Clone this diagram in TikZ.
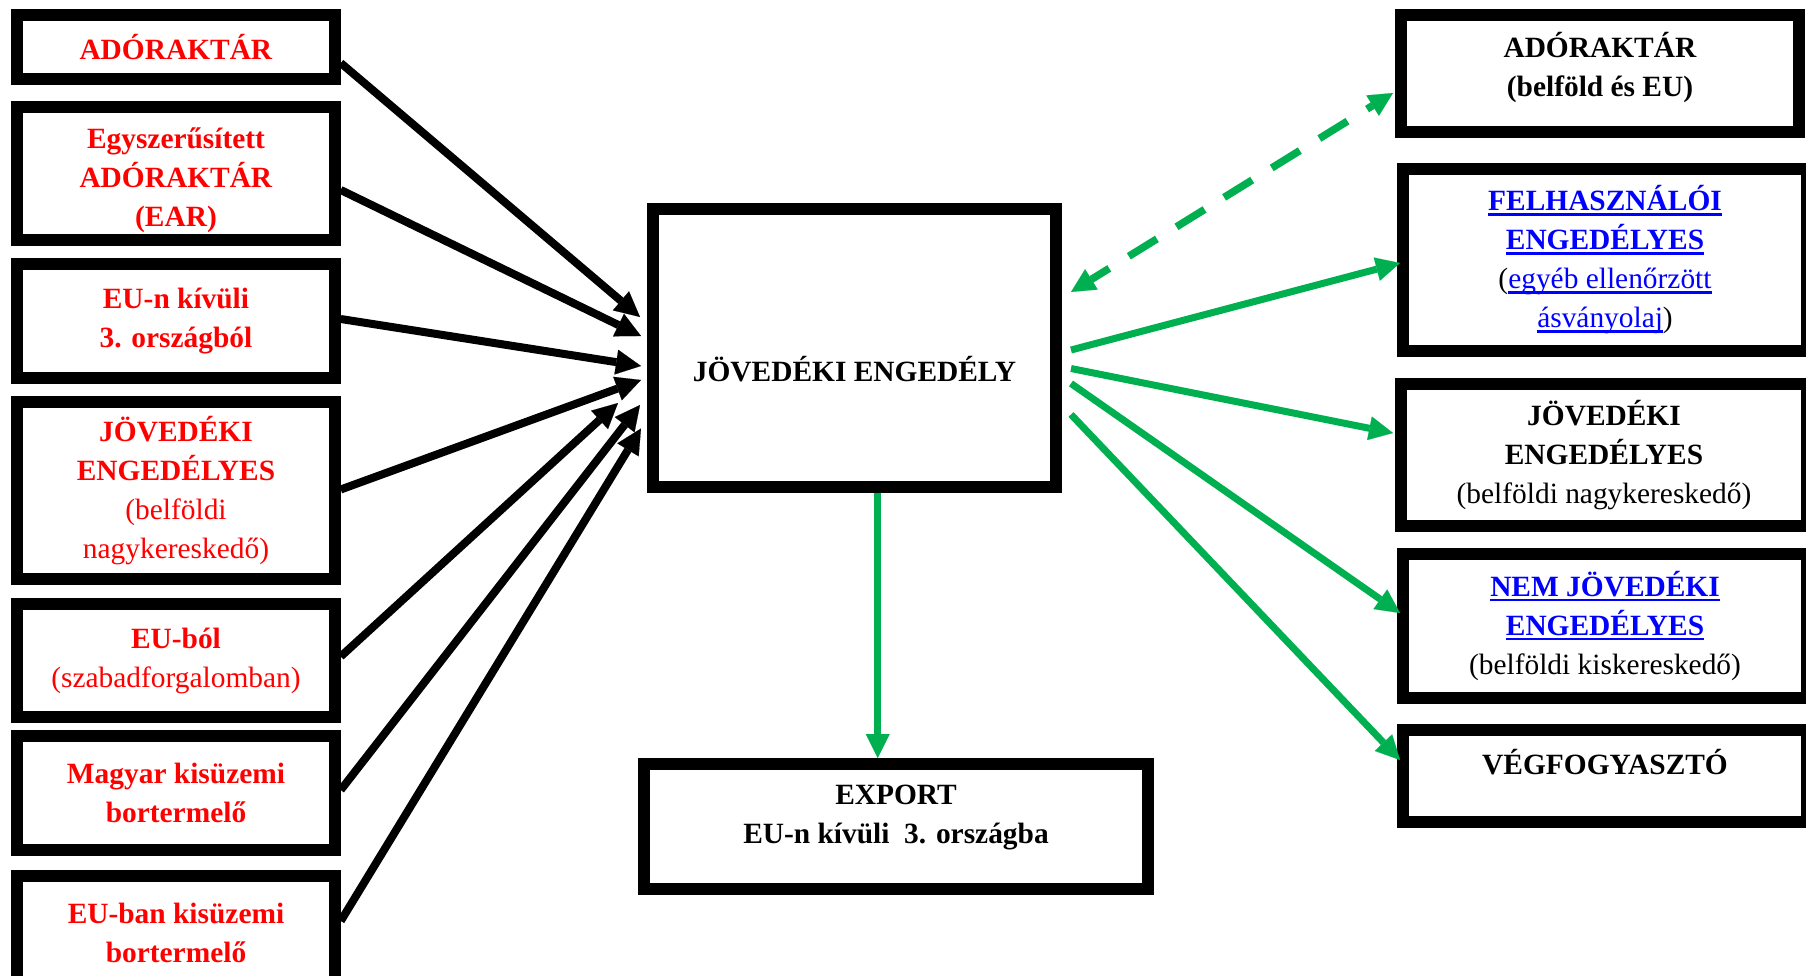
\documentclass[tikz,border=0pt]{standalone}
\usepackage{fontspec}
\setmainfont{Liberation Serif}
\usetikzlibrary{arrows.meta,calc}
\definecolor{gr}{HTML}{00B050}
\definecolor{rd}{HTML}{FF0000}
\definecolor{bl}{HTML}{0000FF}
\newcommand\myul[1]{\setbox0\hbox{#1}\rlap{\rule[-5pt]{\wd0}{2.6pt}}\box0}
\newcommand\fs{\fontsize{29.4}{39}\selectfont}
\begin{document}
\begin{tikzpicture}[x=1pt,y=-1pt,
  box/.style={draw, line width=12pt, inner sep=0pt, align=center, font=\fs},
  lbox/.style={box, minimum width=317.5pt, text=rd},
  txt/.style={inner sep=0pt, align=center, font=\fs},
  barrow/.style={draw=black, line width=8pt, -{Triangle[length=25pt,width=25pt,line width=0.1pt]}},
  garrow/.style={draw=gr, line width=7pt, -{Triangle[length=24pt,width=24pt,line width=0.1pt]}},
  gdash/.style={draw=gr, line width=7.5pt, dash pattern=on 33pt off 23pt, dash phase=12pt,
     {Triangle[length=24pt,width=24pt,line width=0.1pt]}-{Triangle[length=24pt,width=24pt,line width=0.1pt]}}]
\useasboundingbox (0,0) rectangle (1806,976);
\clip (0,0) rectangle (1806,976);
\fill[white] (0,0) rectangle (1806,976);

% left boxes
\node[lbox, minimum height=64pt] (l1) at (176,47) {\textbf{ADÓRAKTÁR}};
\node[lbox, minimum height=133pt] (l2) at (176,174) {};
\node[txt, text=rd] (l2text) at (176,180) {\textbf{Egyszerűsített}\\\textbf{ADÓRAKTÁR}\\\textbf{(EAR)}};
\node[lbox, minimum height=113.5pt] (l3) at (176,321) {\textbf{EU-n kívüli}\\\textbf{3. országból}};
\node[lbox, minimum height=177pt] (l4) at (176,490.5) {\textbf{JÖVEDÉKI}\\\textbf{ENGEDÉLYES}\\(belföldi\\nagykereskedő)};
\node[lbox, minimum height=113pt] (l5) at (176,660.5) {\textbf{EU-ból}\\(szabadforgalomban)};
\node[lbox, minimum height=114pt] (l6) at (176,793) {\textbf{Magyar kisüzemi}\\\textbf{bortermelő}};
\node[lbox, minimum height=114pt] (l7) at (176,933) {\textbf{EU-ban kisüzemi}\\\textbf{bortermelő}};

% centre
\node[box, minimum width=403pt, minimum height=278pt] (main) at (854.5,348) {};
\node[txt] (maintext) at (854.5,369) {\textbf{JÖVEDÉKI ENGEDÉLY}};
\node[box, minimum width=504pt, minimum height=125pt] (export) at (896,826.5) {};
\node[txt] (exporttext) at (896,818) {\textbf{EXPORT}\\\textbf{EU-n kívüli\ \ 3. országba}};

% right boxes
\node[box, minimum width=398pt, minimum height=117pt] (r1) at (1600,73.5) {};
\node[txt] (r1text) at (1600,67.5) {\textbf{ADÓRAKTÁR}\\\textbf{(belföld és EU)}};
\node[box, minimum width=404pt, minimum height=181.5pt] (r2) at (1605,260)
  {{\color{bl}\textbf{\myul{FELHASZNÁLÓI}}}\\{\color{bl}\textbf{\myul{ENGEDÉLYES}}}\\({\color{bl}\myul{egyéb ellenőrzött}}\\{\color{bl}\myul{ásványolaj}})};
\node[box, minimum width=406pt, minimum height=142pt] (r3) at (1604,455)
  {\textbf{JÖVEDÉKI}\\\textbf{ENGEDÉLYES}\\(belföldi nagykereskedő)};
\node[box, minimum width=404pt, minimum height=144pt] (r4) at (1605,626)
  {{\color{bl}\textbf{\myul{NEM JÖVEDÉKI}}}\\{\color{bl}\textbf{\myul{ENGEDÉLYES}}}\\(belföldi kiskereskedő)};
\node[box, minimum width=404pt, minimum height=91.5pt] (r5) at (1605,776) {};
\node[txt] (r5text) at (1605,762.5) {\textbf{VÉGFOGYASZTÓ}};

% arrow end points
\coordinate (t1) at (640,317);
\coordinate (t2) at (641,336);
\coordinate (t3) at (641,366);
\coordinate (t4) at (641,380);
\coordinate (t5) at (618,403);
\coordinate (t6) at (640,405);
\coordinate (t7) at (641,428.5);

\draw[barrow] ($(l1.east)+(0,16)$) -- (t1);
\draw[barrow] ($(l2.east)+(0,16)$) -- (t2);
\draw[barrow] ($(l3.east)+(0,-2)$) -- (t3);
\draw[barrow] ($(l4.east)+(0,-1)$) -- (t4);
\draw[barrow] ($(l5.east)+(0,-4)$) -- (t5);
\draw[barrow] ($(l6.east)+(0,-3)$) -- (t6);
\draw[barrow] ($(l7.east)+(0,-12)$) -- (t7);

\coordinate (s0) at (1071,292);
\coordinate (s1) at (1071,350);
\coordinate (s2) at (1071,368.5);
\coordinate (s3) at (1071,383.5);
\coordinate (s4) at (1071,414.5);
\coordinate (e0) at (1393,93);
\coordinate (e1) at (1400,263);
\coordinate (e2) at (1393,433);
\coordinate (e3) at (1400,613);
\coordinate (e4) at (1400,760);

\draw[gdash] (s0) -- (e0);
\draw[garrow] (s1) -- (e1);
\draw[garrow] (s2) -- (e2);
\draw[garrow] (s3) -- (e3);
\draw[garrow] (s4) -- (e4);

\coordinate (vx) at (877.7,0);
\draw[garrow] (vx |- main.south) -- (vx |- export.north);
\end{tikzpicture}
\end{document}
